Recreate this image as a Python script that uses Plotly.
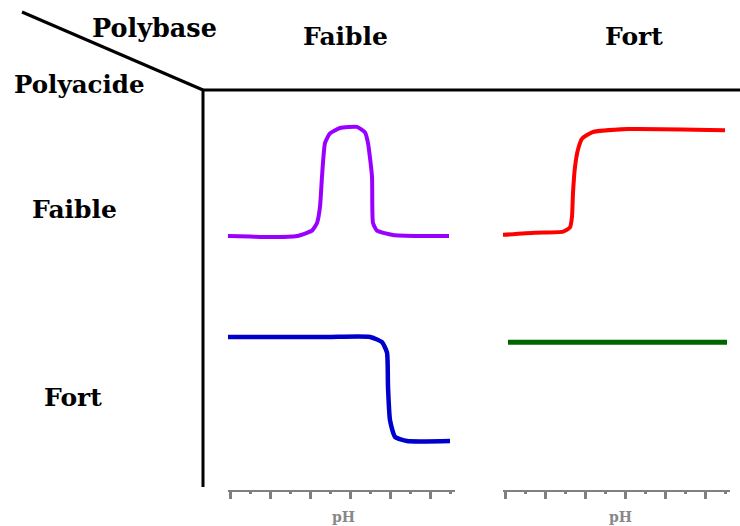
import plotly.graph_objects as go

# ---- data (pH on x, normalised response on y) ----
ph_weak_weak = [-0.1, 1.0, 2.0, 3.35, 3.85, 4.1, 4.35, 4.5, 4.6, 4.75, 5.0, 5.5, 6.35, 6.75, 6.9, 7.1, 7.15, 7.35, 8.15, 9.5, 10.95]
y_weak_weak = [0.0, -0.005, -0.01, 0.0, 0.03, 0.05, 0.12, 0.27, 0.55, 0.86, 0.95, 1.0, 1.01, 0.96, 0.86, 0.55, 0.12, 0.05, 0.01, 0.0, 0.0]

ph_weak_strong = [-0.15, 1.5, 2.9, 3.25, 3.35, 3.4, 3.5, 3.65, 3.85, 4.35, 6.15, 11.0]
y_weak_strong = [0.01, 0.03, 0.04, 0.08, 0.18, 0.40, 0.64, 0.80, 0.90, 0.96, 0.99, 0.98]

ph_strong_weak = [-0.15, 4.85, 7.0, 7.6, 7.85, 7.9, 8.0, 8.25, 8.85, 11.0]
y_strong_weak = [1.0, 1.0, 1.0, 0.95, 0.85, 0.52, 0.20, 0.04, 0.0, 0.0]

ph_strong_strong = [0.15, 11.1]
y_strong_strong = [0.95, 0.95]

col_labels = ["Faible", "Fort"]
row_labels = ["Faible", "Fort"]
axis_title = "pH"

W, H = 740, 526
def px(x):
    return x / W
def py(y):
    return 1 - y / H

fig = go.Figure()
fig.add_trace(go.Scatter(x=ph_weak_weak, y=y_weak_weak, xaxis="x", yaxis="y", mode="lines",
                         line=dict(color="#9900FF", width=4, shape="spline", smoothing=0.5), cliponaxis=False))
fig.add_trace(go.Scatter(x=ph_weak_strong, y=y_weak_strong, xaxis="x2", yaxis="y", mode="lines",
                         line=dict(color="#FF0000", width=4, shape="spline", smoothing=0.5), cliponaxis=False))
fig.add_trace(go.Scatter(x=ph_strong_weak, y=y_strong_weak, xaxis="x", yaxis="y2", mode="lines",
                         line=dict(color="#0000CC", width=4.5, shape="spline", smoothing=0.5), cliponaxis=False))
fig.add_trace(go.Scatter(x=ph_strong_strong, y=y_strong_strong, xaxis="x2", yaxis="y2", mode="lines",
                         line=dict(color="#006400", width=5), cliponaxis=False))

xax = dict(range=[-0.1, 11.25], anchor="free", position=py(491), showline=True, linecolor="#808080",
           linewidth=2, showgrid=False, zeroline=False, showticklabels=False, ticks="outside",
           tickmode="linear", tick0=0, dtick=2, ticklen=7, tickwidth=3, tickcolor="#808080",
           minor=dict(ticks="outside", ticklen=2, tickwidth=3, tickcolor="#808080", dtick=1, tick0=0),
           fixedrange=True)
fig.update_layout(
    width=W, height=H, margin=dict(l=0, r=0, t=0, b=0),
    paper_bgcolor="white", plot_bgcolor="white", showlegend=False,
    xaxis=dict(domain=[px(228), px(455)], **xax),
    xaxis2=dict(domain=[px(503), px(730)], **xax),
    yaxis=dict(domain=[py(250), py(120)], range=[-0.1296, 1.074], visible=False, anchor="x", fixedrange=True),
    yaxis2=dict(domain=[py(460), py(320)], range=[-0.1827, 1.1635], visible=False, anchor="x", fixedrange=True),
)

line_style = dict(color="black", width=3)
fig.add_shape(type="line", xref="paper", yref="paper", x0=px(22), y0=py(12), x1=px(203), y1=py(90), line=line_style)
fig.add_shape(type="line", xref="paper", yref="paper", x0=px(202), y0=py(90), x1=px(740), y1=py(90), line=line_style)
fig.add_shape(type="line", xref="paper", yref="paper", x0=px(203), y0=py(89), x1=px(203), y1=py(487), line=line_style)

fam = "DejaVu Serif"
def label(text, x, y, size=24, color="black"):
    fig.add_annotation(text="<b>" + text + "</b>", x=px(x), y=py(y), xref="paper", yref="paper",
                       xanchor="center", yanchor="middle", showarrow=False,
                       font=dict(family=fam, size=size, color=color))

label("Polybase", 154, 28, size=25.5)
label("Polyacide", 79, 84, size=24.5)
label(col_labels[0], 345, 36, size=25)
label(col_labels[1], 634, 36, size=25)
label(row_labels[0], 74, 210, size=25)
label(row_labels[1], 73, 397, size=25)
label(axis_title, 343, 517, size=14, color="#888888")
label(axis_title, 620, 517, size=14, color="#888888")

fig.write_html("out.html", config={"displayModeBar": False, "staticPlot": True},
               post_script="document.body.style.margin='0';document.body.style.overflow='hidden';")
